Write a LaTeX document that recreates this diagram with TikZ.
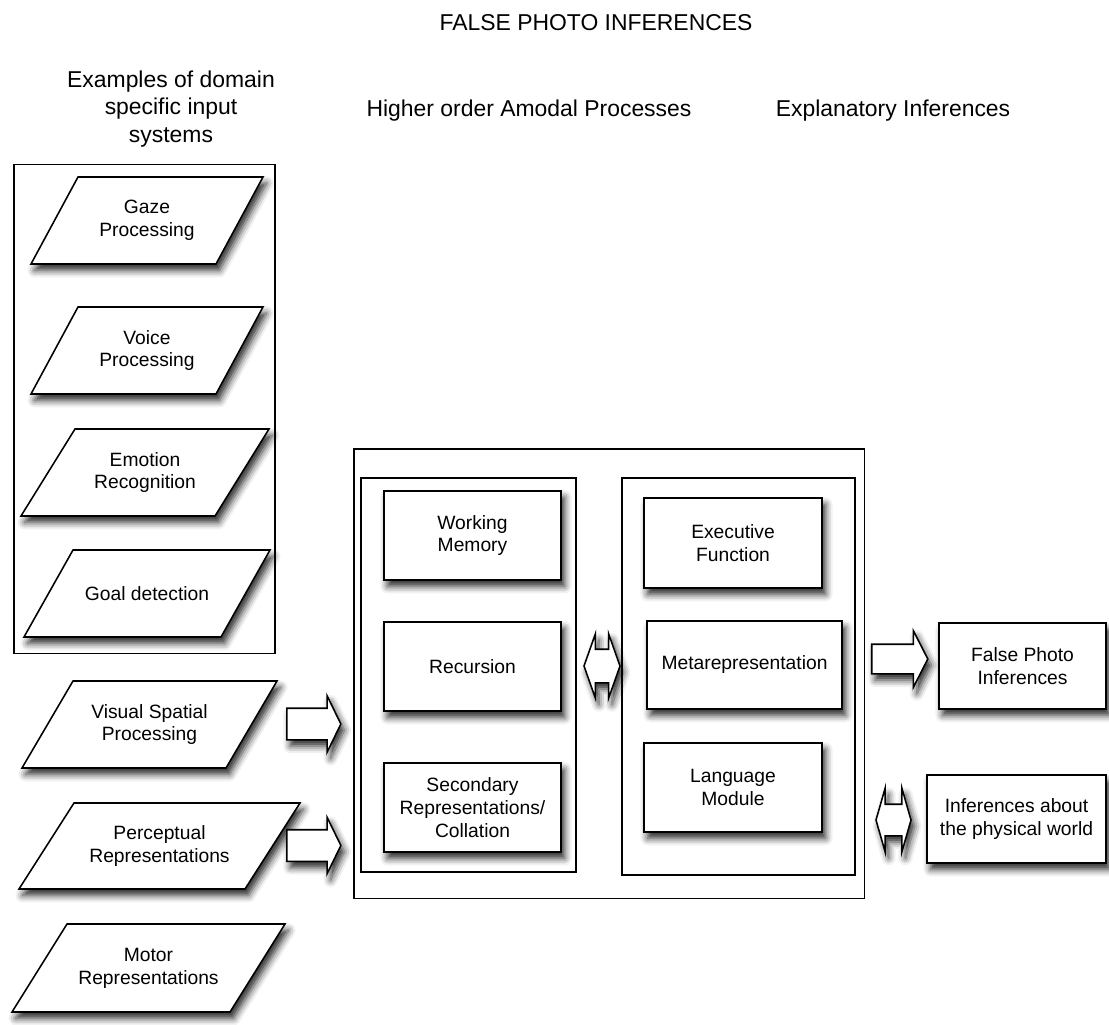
\documentclass[tikz,border=0pt]{standalone}
\usepackage{fontspec}
\setmainfont{Liberation Sans}
\usetikzlibrary{shapes.arrows,shadows.blur}

\newcommand{\boxfont}{\fontsize{13.7}{16.3}\selectfont}
\newcommand{\headfont}{\fontsize{16.3}{19.3}\selectfont}

\begin{document}
\begin{tikzpicture}[x=0.025cm,y=-0.025cm]
      \useasboundingbox (0,0) rectangle (1109,1024);
      \begin{scope}[every node/.style={font=\headfont,align=center}]
        \node (title) at (596,23) {FALSE PHOTO INFERENCES};
        \node (hinput) at (171,109) {Examples of domain\\specific input\\systems};
        \node (hamodal) at (529,111) {Higher order Amodal Processes};
        \node (hexpl) at (893,111) {Explanatory Inferences};
      \end{scope}
      \begin{scope}[every node/.style={draw,line width=0.8pt,inner sep=0pt}]
        \node[minimum width=6.525cm,minimum height=12.2cm] (inputs) at (144.5,409) {};
        \node[minimum width=12.75cm,minimum height=11.225cm] (amodal) at (609,673.5) {};
        \node[minimum width=5.375cm,minimum height=9.85cm] (left) at (468.5,675) {};
        \node[minimum width=5.825cm,minimum height=9.925cm] (right) at (738.5,676.5) {};
      \end{scope}
      % input systems: bottom-left x / top-left x / side / top y / bottom y
      \begin{scope}[inshape/.style={draw,fill=white,line width=1.1pt,line join=miter,
          blur shadow={shadow xshift=2.5pt,shadow yshift=-4.5pt,shadow blur radius=5pt,shadow opacity=85}},
          every node/.style={font=\boxfont,align=center}]
        \foreach \n/\xb/\xt/\s/\yt/\yb/\t in {gaze/31/78/185/177/264/{Gaze\\Processing},
            voice/31/78/185/307/394/{Voice\\Processing},
            emotion/21/75/194/429/516/{Emotion\\Recognition},
            goal/24/73/197/550/637/{Goal detection},
            visual/22/73/204/681/768/{Visual Spatial\\Processing},
            percept/19/74/226/803/889/{Perceptual\\Representations},
            motor/12/67/218/924/1012/{Motor\\Representations}} {
          \path[inshape] (\xb,\yb) -- (\xb+\s,\yb) -- (\xt+\s,\yt) -- (\xt,\yt) -- cycle;
          \node (\n) at ({(\xb+\xt+\s)/2},{(\yt+\yb)/2}) {\t};
        }
      \end{scope}
      \begin{scope}[every node/.style={rectangle,draw,fill=white,line width=1.1pt,font=\boxfont,align=center,
          blur shadow={shadow xshift=2.5pt,shadow yshift=-4.5pt,shadow blur radius=5pt,shadow opacity=85}}]
        \node[minimum width=4.425cm,minimum height=2.225cm] (wm) at (472.5,535.5) {Working\\Memory};
        \node[minimum width=4.425cm,minimum height=2.225cm] (rec) at (472.5,666.5) {Recursion};
        \node[minimum width=4.425cm,minimum height=2.225cm] (sec) at (472.5,807.5) {Secondary\\Representations/\\Collation};
        \node[minimum width=4.45cm,minimum height=2.25cm] (exec) at (733,543) {Executive\\Function};
        \node[minimum width=4.875cm,minimum height=2.2cm] (meta) at (744.5,665) {Metarepresentation};
        \node[minimum width=4.45cm,minimum height=2.225cm] (lang) at (733,787.5) {Language\\Module};
        \node[minimum width=4.175cm,minimum height=2.15cm] (fpi) at (1022.5,666) {False Photo\\Inferences};
        \node[minimum width=4.475cm,minimum height=2.2cm] (phys) at (1016.5,819) {Inferences about\\the physical world};
      \end{scope}
      \begin{scope}[every node/.style={draw,fill=white,line width=1.1pt,inner xsep=0pt,minimum width=0pt,
          blur shadow={shadow xshift=2.5pt,shadow yshift=-4.5pt,shadow blur radius=5pt,shadow opacity=85}}]
        \node[single arrow,inner ysep=0.375cm,single arrow head extend=0.3125cm,single arrow tip angle=128,
          minimum height=1.35cm] (tovis) at (310,724) {};
        \node[single arrow,inner ysep=0.375cm,single arrow head extend=0.3125cm,single arrow tip angle=128,
          minimum height=1.35cm] (toper) at (310,845.5) {};
        \node[single arrow,inner ysep=0.35cm,single arrow head extend=0.3375cm,single arrow tip angle=126,
          minimum height=1.4cm] (tofpi) at (896,659) {};
        \node[double arrow,inner ysep=0.4cm,double arrow head extend=0.3875cm,double arrow tip angle=141,
          minimum height=0.9cm] (mid) at (602,666) {};
        \node[double arrow,inner ysep=0.375cm,double arrow head extend=0.4cm,double arrow tip angle=148,
          minimum height=0.875cm] (tophys) at (893.5,820) {};
      \end{scope}
    \end{tikzpicture}
\end{document}
